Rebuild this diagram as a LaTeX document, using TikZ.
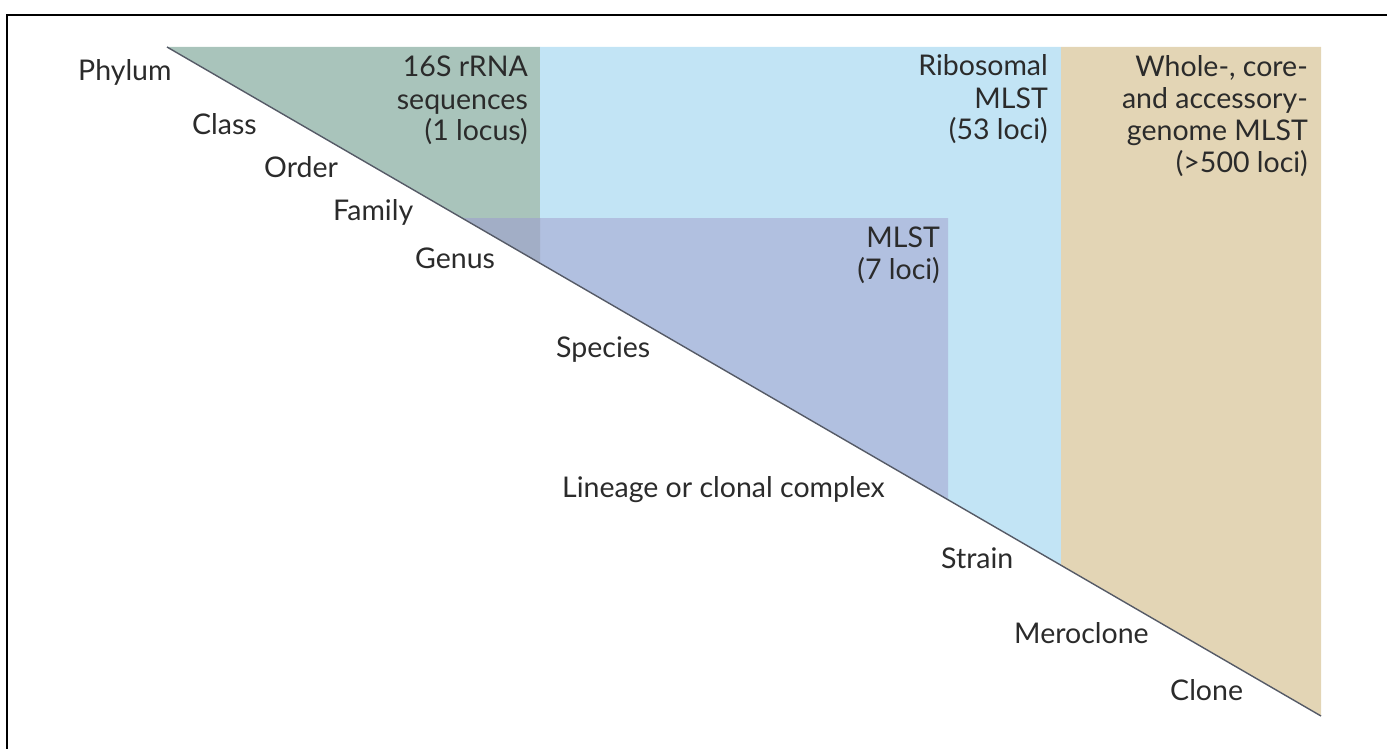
\documentclass[tikz,border=0pt]{standalone}
\usepackage{fontspec}
\setmainfont{Lato}
\definecolor{cgreen}{HTML}{A9C4BB}
\definecolor{cblue}{HTML}{C2E4F5}
\definecolor{cmlst}{HTML}{B1C0E0}
\definecolor{covl}{HTML}{A2AEC6}
\definecolor{ctan}{HTML}{E3D5B5}
\definecolor{cline}{HTML}{555A66}
\definecolor{ctext}{HTML}{2B2B2B}
\tikzset{
  lbl/.style={inner sep=0pt, text=ctext, font=\fontsize{28.5}{32}\selectfont},
  rlbl/.style={lbl, anchor=base east, align=right},
  llbl/.style={lbl, anchor=base west}
}
\begin{document}
\begin{tikzpicture}[x=1pt,y=-1pt]
\useasboundingbox (0,0) rectangle (1387,749);
% frame (top and left visible)
\draw[line width=2.5pt] (7,749) -- (7,15) -- (1387,15);
% regions; hypotenuse y = 47 + (x-167)*669/1154
\coordinate (apex) at (167,47);
\coordinate (tip) at (1321,716);
\fill[cgreen] (167,47) -- (540,47) -- (540,263.2) -- cycle;
\fill[cblue] (540,47) -- (1061,47) -- (1061,565.3) -- (540,263.2) -- cycle;
\fill[ctan] (1061,47) -- (1321,47) -- (1321,716) -- (1061,565.3) -- cycle;
\fill[cmlst] (540,218) -- (948,218) -- (948,499.8) -- (540,263.2) -- cycle;
\fill[covl] (462,218) -- (540,218) -- (540,263.2) -- cycle;
\draw[cline, line width=1.4pt] (apex) -- (tip);
% method labels (anchored at the baseline of the last line)
\node[rlbl] (s16) at (528,141) {16S rRNA\\sequences\\(1 locus)};
\node[rlbl] (rib) at (1048,140) {Ribosomal\\MLST\\(53 loci)};
\node[rlbl] (wg) at (1308,172) {Whole-, core-\\and accessory-\\genome MLST\\(>500 loci)};
\node[rlbl] (mlst) at (940,279) {MLST\\(7 loci)};
% taxonomic labels
\node[llbl] (phylum) at (78,81) {Phylum};
\node[llbl] (class) at (192,135) {Class};
\node[llbl] (order) at (264,177) {Order};
\node[llbl] (family) at (333,220) {Family};
\node[llbl] (genus) at (415,268) {Genus};
\node[llbl] (species) at (556,357) {Species};
\node[llbl] (lineage) at (562,497) {Lineage or clonal complex};
\node[llbl] (strain) at (941,568) {Strain};
\node[llbl] (mero) at (1014,643) {Meroclone};
\node[llbl] (clone) at (1170,700) {Clone};
\end{tikzpicture}
\end{document}
